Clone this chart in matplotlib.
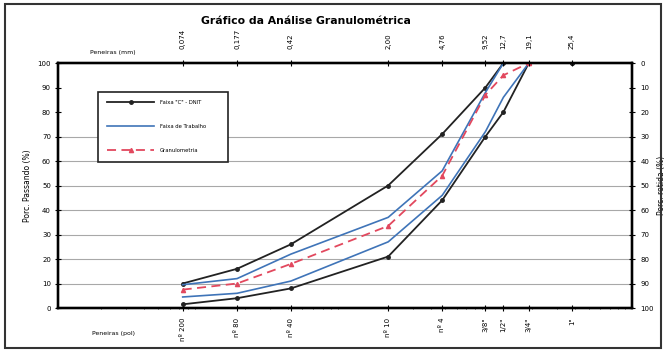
import matplotlib
matplotlib.use('Agg')
import matplotlib.pyplot as plt
from matplotlib.patches import Rectangle
from matplotlib.ticker import FixedLocator, LogLocator, NullFormatter

# peneiras (posicao em mm no eixo log) e rotulos
sieve_mm = [0.074, 0.177, 0.42, 2.00, 4.76, 9.52, 12.7, 19.1, 38.1]
mm_labels = ['0,074', '0,177', '0,42', '2,00', '4,76', '9,52', '12,7', '19,1', '25,4']
pol_labels = ['nº 200', 'nº 80', 'nº 40', 'nº 10', 'nº 4', '3/8"', '1/2"', '3/4"', '1"']

# % passando
faixa_c_sup = [10, 16, 26, 50, 71, 90, 100, 100, 100]
faixa_c_inf = [1.5, 4, 8, 21, 44, 70, 80, 100, 100]
trabalho_sup = [9.5, 12, 22, 37, 56, 88, 100]
trabalho_inf = [4.5, 6, 11, 27, 46, 72, 86, 100]
granulometria = [7.5, 10, 18, 33.5, 54, 87, 95, 100]

y_ticks = [0, 10, 20, 30, 40, 50, 60, 70, 80, 90, 100]
grid_levels = [10, 20, 30, 40, 50, 60, 70]

fig = plt.figure(figsize=(6.66, 3.51), dpi=100)
ax = fig.add_axes([0.087, 0.1225, 0.862, 0.698])

for g in grid_levels:
    ax.axhline(g, color='#a8a8a8', lw=0.8, zorder=1)

ax.plot(sieve_mm, faixa_c_sup, color='#222222', lw=1.3, marker='o', ms=2.5,
        label='Faixa "C" - DNIT', zorder=3)
ax.plot(sieve_mm, faixa_c_inf, color='#222222', lw=1.3, marker='o', ms=2.5, zorder=3)
ax.plot(sieve_mm[:len(trabalho_sup)], trabalho_sup, color='#3f74b8', lw=1.2,
        label='Faixa de Trabalho', zorder=3)
ax.plot(sieve_mm[:len(trabalho_inf)], trabalho_inf, color='#3f74b8', lw=1.2, zorder=3)
ax.plot(sieve_mm[:len(granulometria)], granulometria, color='#e2485e', lw=1.3,
        ls=(0, (5, 3)), marker='^', ms=3, label='Granulometria', zorder=4)

ax.set_xscale('log')
ax.set_xlim(0.01, 100)
ax.set_ylim(0, 100)
ax.set_yticks(y_ticks)
ax.tick_params(axis='y', labelsize=5, direction='inout', length=4, width=0.8, pad=3)
ax.set_ylabel('Porc. Passando (%)', fontsize=5.5, labelpad=4)

ax.xaxis.set_major_locator(FixedLocator(sieve_mm))
ax.set_xticklabels(pol_labels, rotation=90, fontsize=5)
ax.xaxis.set_minor_locator(LogLocator(base=10, subs=range(2, 10)))
ax.xaxis.set_minor_formatter(NullFormatter())
ax.tick_params(axis='x', which='major', direction='inout', length=4, width=0.8, pad=5)
ax.tick_params(axis='x', which='minor', direction='inout', length=2, width=0.5)

for s in ax.spines.values():
    s.set_linewidth(1.6)

top = ax.twiny()
top.set_xscale('log')
top.set_xlim(0.01, 100)
top.xaxis.set_major_locator(FixedLocator(sieve_mm))
top.set_xticklabels(mm_labels, rotation=90, fontsize=5)
top.xaxis.set_minor_locator(FixedLocator([]))
top.tick_params(axis='x', direction='inout', length=4, width=0.8, pad=8)

right = ax.twinx()
right.set_ylim(100, 0)
right.set_yticks(y_ticks)
right.tick_params(axis='y', labelsize=5, direction='inout', length=4, width=0.8, pad=4)
right.set_ylabel('Porc. retida (%)', fontsize=5.5, rotation=90, labelpad=2)
for s in list(top.spines.values()) + list(right.spines.values()):
    s.set_linewidth(1.6)

leg = ax.legend(loc='upper left', bbox_to_anchor=(0.066, 0.6, 0.234, 0.294),
                mode='expand', fontsize=3.8, frameon=True, fancybox=False,
                edgecolor='#222222', framealpha=1, labelspacing=3.6, handlelength=9,
                borderpad=1.6, handletextpad=1.0)
leg.get_frame().set_linewidth(1.2)
leg.set_zorder(5)

fig.text(0.46, 0.94, 'Gráfico da Análise Granulométrica', ha='center', va='center',
         fontsize=7.8, fontweight='bold')
fig.text(0.17, 0.85, 'Peneiras (mm)', ha='center', va='center', fontsize=4.5)
fig.text(0.17, 0.05, 'Peneiras (pol)', ha='center', va='center', fontsize=4.5)

fig.patches.append(Rectangle((0.008, 0.008), 0.984, 0.98, transform=fig.transFigure,
                             fill=False, edgecolor='#333333', lw=1.5))

fig.savefig('out.png', dpi=100)
